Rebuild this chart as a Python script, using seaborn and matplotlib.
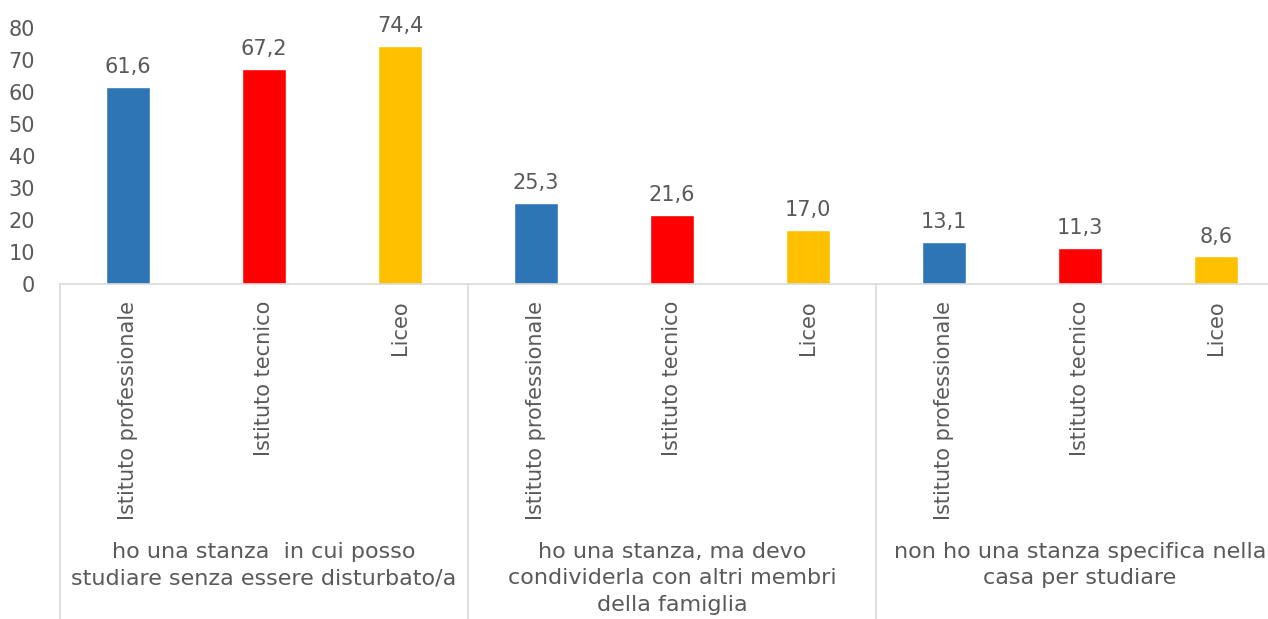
import pandas as pd
import matplotlib.pyplot as plt
import matplotlib.transforms as mtransforms
import seaborn as sns

sns.set_style('white')
plt.rcParams['font.family'] = ['DejaVu Sans']

# data
gruppi = [
    "ho una stanza  in cui posso\nstudiare senza essere disturbato/a",
    "ho una stanza, ma devo\ncondividerla con altri membri\ndella famiglia",
    "non ho una stanza specifica nella\ncasa per studiare",
]
scuole = ["Istituto professionale", "Istituto tecnico", "Liceo"]
valori = [
    [61.6, 67.2, 74.4],
    [25.3, 21.6, 17.0],
    [13.1, 11.3, 8.6],
]
colori = ["#2E75B6", "#FF0000", "#FFC000"]
grigio = "#595959"

rows = []
for g, vals in enumerate(valori):
    for s, v in zip(scuole, vals):
        rows.append({"slot": f"{g}-{s}", "scuola": s, "valore": v})
df = pd.DataFrame(rows)

fig = plt.figure(figsize=(12.68, 6.19), dpi=100)
ax = fig.add_axes([60 / 1268, 335 / 619, 1224 / 1268, 256 / 619])

sns.barplot(data=df, x="slot", y="valore", hue="scuola", hue_order=scuole,
            palette=colori, saturation=1, dodge=False, width=0.32,
            legend=False, ax=ax)

for cont in ax.containers:
    ax.bar_label(cont, labels=[f"{v:.1f}".replace(".", ",") for v in cont.datavalues],
                 padding=7, fontsize=15, color=grigio)

ax.set_xlim(-0.5, 8.5)
ax.set_ylim(0, 80)
ax.set_yticks(range(0, 81, 10))
ax.set_xticks(range(9))
ax.set_xticklabels(scuole * 3, rotation=90, va="top", ha="center")
ax.tick_params(axis="x", length=0, pad=12, labelsize=15, labelcolor=grigio)
ax.tick_params(axis="y", length=0, pad=18, labelsize=15, labelcolor=grigio)
ax.set_xlabel("")
ax.set_ylabel("")

for side in ["left", "top", "right"]:
    ax.spines[side].set_visible(False)
ax.spines["bottom"].set_color("#D9D9D9")
ax.spines["bottom"].set_linewidth(1.2)

trans = mtransforms.blended_transform_factory(ax.transData, ax.transAxes)
for x in [-0.5, 2.5, 5.5, 8.5]:
    ax.plot([x, x], [0, -335 / 256], transform=trans, color="#D9D9D9",
            lw=1.2, clip_on=False)

for g, testo in enumerate(gruppi):
    ax.text(g * 3 + 1, -258 / 256, testo, transform=trans, ha="center", va="top",
            fontsize=16, color=grigio, linespacing=1.4)

fig.savefig("out.png", dpi=100)
